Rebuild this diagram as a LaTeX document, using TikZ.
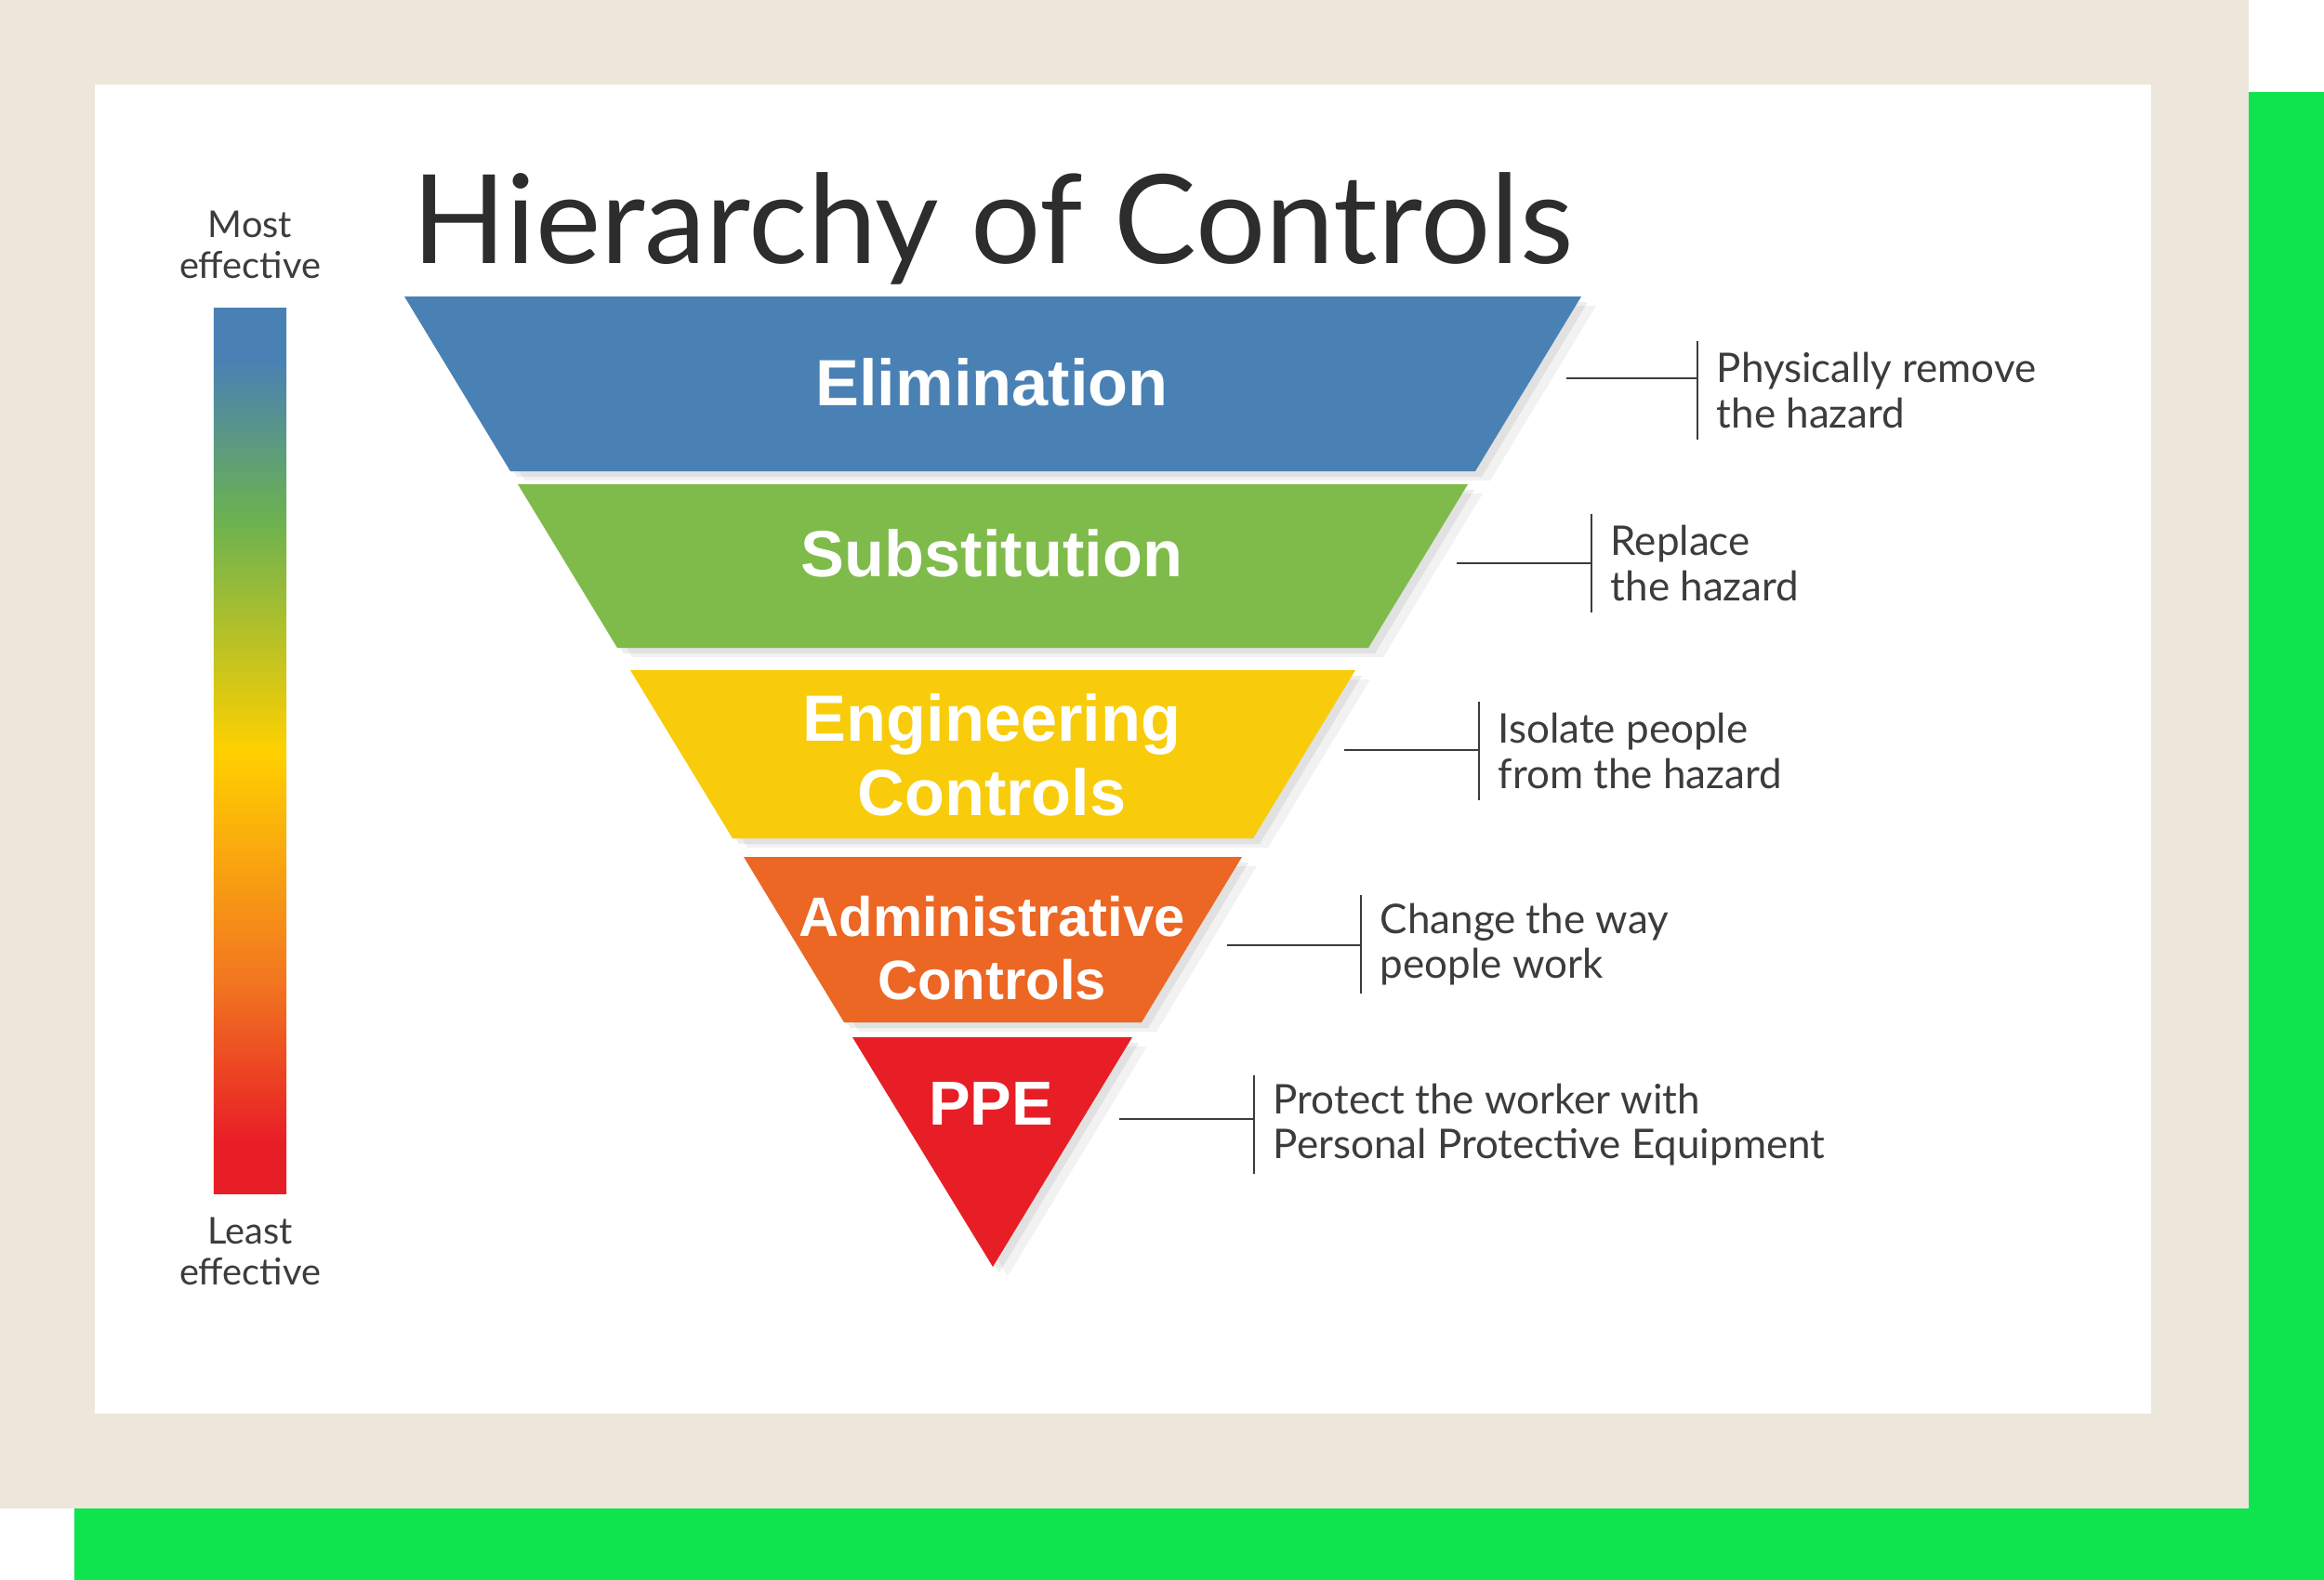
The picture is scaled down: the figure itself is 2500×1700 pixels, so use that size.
\documentclass[tikz,border=0pt]{standalone}
\usepackage{fontspec}
\usepackage{tikz}
\usepackage{xcolor}
\usetikzlibrary{positioning,shadows}

\newfontfamily\titlefont{Lato}
\newfontfamily\tierfont{Liberation Sans}

\definecolor{framegreen}{RGB}{14,228,78}
\definecolor{framebeige}{RGB}{237,230,219}
\definecolor{elimblue}{RGB}{74,129,180}
\definecolor{substgreen}{RGB}{126,187,74}
\definecolor{engyellow}{RGB}{248,204,10}
\definecolor{adminorange}{RGB}{236,102,36}
\definecolor{ppered}{RGB}{232,30,38}
\definecolor{bargreen}{RGB}{108,178,80}
\definecolor{baryellow}{RGB}{255,208,0}
\definecolor{barorange}{RGB}{242,118,32}
\definecolor{titlegray}{RGB}{45,45,45}
\definecolor{textgray}{RGB}{60,60,60}

\pgfdeclareverticalshading{effbar}{100bp}{color(0bp)=(ppered); color(28bp)=(ppered);
  color(37bp)=(barorange); color(50bp)=(baryellow); color(63bp)=(bargreen);
  color(72bp)=(elimblue); color(100bp)=(elimblue)}

\begin{document}
\begin{tikzpicture}[x=0.01cm, y=-0.01cm,
    tierband/.style={drop shadow={shadow xshift=0.16cm, shadow yshift=-0.10cm, opacity=0.10},
                     drop shadow={shadow xshift=0.07cm, shadow yshift=-0.06cm, opacity=0.14}},
    tier/.style={font=\tierfont\bfseries\fontsize{20}{22.8}\selectfont, text=white, align=center},
    desc/.style={font=\titlefont\fontsize{12.5}{13.8}\selectfont, text=textgray, align=left,
                 anchor=west, inner xsep=0.2cm, inner ysep=0pt, minimum height=1.05cm},
    effect/.style={font=\titlefont\fontsize{11.3}{12.5}\selectfont, text=textgray, align=center, inner sep=0pt},
    tick/.style={draw=textgray, line width=0.6pt}]
    \useasboundingbox (0,0) rectangle (2500,1700);

    % frame
    \fill[framegreen] (80,99) rectangle (2500,1700);
    \fill[framebeige] (0,0) rectangle (2419,1623);
    \fill[white] (102,91) rectangle (2314,1521);

    % title
    \node[anchor=base west, inner sep=0pt, text=titlegray,
          font=\titlefont\fontsize{37.8}{42}\selectfont] (title) at (443,284) {Hierarchy of Controls};

    % effectiveness bar
    \node[shading=effbar, minimum width=0.78cm, minimum height=9.53cm, inner sep=0pt] (bar) at (269,808) {};
    \node[effect, above=0.3cm of bar] (most) {Most\\effective};
    \node[effect, below=0.24cm of bar] (least) {Least\\effective};

    % pyramid bands
    \fill[elimblue, tierband] (435,319) -- (1701,319) -- (1587,507) -- (549,507) -- cycle;
    \fill[substgreen, tierband] (557,521) -- (1579,521) -- (1472,697) -- (664,697) -- cycle;
    \fill[engyellow, tierband] (678,721) -- (1458,721) -- (1348,902) -- (788,902) -- cycle;
    \fill[adminorange, tierband] (800,922) -- (1336,922) -- (1228,1100) -- (908,1100) -- cycle;
    \fill[ppered, tierband] (917,1116) -- (1218,1116) -- (1068,1363) -- cycle;

    \node[tier] (elimination) at (1067,411) {Elimination};
    \node[tier] (substitution) at (1067,595) {Substitution};
    \node[tier] (engineering) at (1067,812) {Engineering\\Controls};
    \node[tier, font=\tierfont\bfseries\fontsize{17}{19.4}\selectfont] (administrative) at (1067,1020) {Administrative\\Controls};
    \node[tier, font=\tierfont\bfseries\fontsize{19}{22}\selectfont] (ppe) at (1066,1188) {PPE};

    % descriptions
    \node[desc] (elimdesc) at (1826,420) {Physically remove\\the hazard};
    \node[desc] (substdesc) at (1712,606) {Replace\\the hazard};
    \node[desc] (engdesc) at (1591,808) {Isolate people\\from the hazard};
    \node[desc] (admindesc) at (1464,1016) {Change the way\\people work};
    \node[desc] (ppedesc) at (1349,1210) {Protect the worker with\\Personal Protective Equipment};

    \coordinate (elimedge) at (1685,407);
    \coordinate (substedge) at (1567,606);
    \coordinate (engedge) at (1446,807);
    \coordinate (adminedge) at (1320,1017);
    \coordinate (ppeedge) at (1204,1204);

    \draw[tick] (elimedge) -- (elimedge -| elimdesc.west);
    \draw[tick] (elimdesc.north west) -- (elimdesc.south west);
    \draw[tick] (substedge) -- (substedge -| substdesc.west);
    \draw[tick] (substdesc.north west) -- (substdesc.south west);
    \draw[tick] (engedge) -- (engedge -| engdesc.west);
    \draw[tick] (engdesc.north west) -- (engdesc.south west);
    \draw[tick] (adminedge) -- (adminedge -| admindesc.west);
    \draw[tick] (admindesc.north west) -- (admindesc.south west);
    \draw[tick] (ppeedge) -- (ppeedge -| ppedesc.west);
    \draw[tick] (ppedesc.north west) -- (ppedesc.south west);
\end{tikzpicture}
\end{document}
